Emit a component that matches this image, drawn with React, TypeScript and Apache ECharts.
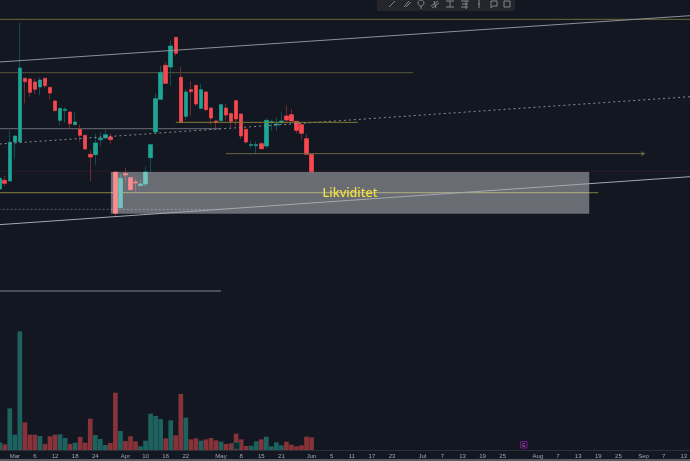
import React, { useEffect, useRef } from "react";
import * as echarts from "echarts";

// [open, close, low, high]
const candles: number[][] = [
  [783,815,783,815],[809,800,792,822],[807,923,807,958],[924,942,872,942],[925,1146,925,1282],
  [1115,1105,1040,1117],[1113,1073,1060,1113],[1104,1082,1068,1115],[1089,1110,1064,1117],[1115,1093,1085,1117],
  [1088,1071,1051,1088],[1047,1018,1017,1050],[989,1025,975,1025],[1019,1022,982,1028],[1014,979,964,1014],
  [976,984,974,1015],[962,944,925,976],[944,903,902,946],[887,879,807,900],[886,921,856,948],
  [931,935,912,954],[936,946,935,962],[939,931,919,950],[834,710,700,834],[727,815,725,828],
  [829,825,802,847],[817,781,780,820],[804,801,772,814],[793,798,792,809],[798,834,789,851],
  [877,916,830,916],[954,1054,954,1070],[1052,1133,1052,1152],[1154,1100,1098,1163],[1149,1212,1093,1228],
  [1238,1190,1183,1238],[1118,983,983,1150],[1001,1074,990,1083],[1081,1075,1003,1107],[1094,1038,1032,1094],
  [1025,1081,1022,1099],[1074,1021,1018,1074],[1026,996,976,1026],[987,983,964,987],[988,1036,987,1040],
  [1026,1005,988,1038],[1009,986,969,1013],[1048,993,972,1049],[1008,942,934,1008],[962,924,919,962],
  [914,916,906,928],[913,916,888,926],[919,904,902,924],[912,989,906,996],[982,985,957,991],
  [975,978,957,998],[982,987,975,1013],[1002,990,977,1033],[1006,987,986,1023],[986,959,950,986],
  [976,950,932,976],[934,887,885,948],[887,835,835,887],
];
const volumes: number[] = [
  23,17,125,46,356,83,46,46,42,18,41,46,47,36,18,22,39,22,94,45,33,15,21,172,57,27,41,26,11,28,
  109,102,93,35,89,44,168,97,32,35,28,32,36,29,25,18,20,49,32,12,13,26,32,40,11,23,14,25,16,11,14,40,38,
];
const tickIndex: number[] = [3,7,11,15,19,25,29,33,37,44,48,52,56,62,66,70,74,78,84,88,92,96,100,107,111,115,119,123,128,132,136];
const tickText: string[] = ["Mar","6","12","18","24","Apr","10","16","22","May","8","15","21","Jun","5","11","17","23","Jul","7","13","19","25","Aug","7","13","19","25","Sep","7","13"];
const slotCount = 138;

const olive = "#6d6a36";
const grey = "#8f9198";
const trendTop = [[-1,1163],[137.3,1303]];
const trendBottom = [[-1,675],[137.3,820]];
const dashedTrend = [[-1,917],[137.3,1060]];
const levelTop = [[-1,1292],[138,1292]];
const level73 = [[-1,1132],[82.2,1132]];
const level129 = [[-1,964],[44,964]];
const level193 = [[-1,772],[119,772]];
const level209 = [[-1,722],[44,722]];
const level171 = [[-1,836],[138,836]];
const level122 = [[35,983],[71.2,983]];
const level153 = [[45,889],[128.3,889]];
const level291 = [[-1,477],[44,477]];
const zone = { x0: 22.1, x1: 117.2, y0: 834, y1: 709, label: "Likviditet" };

const teal = "#1fa596";
const red = "#f8484f";
const tealDark = "#0f4f4e";
const redDark = "#6f2a30";
const volTeal = "#1d625f";
const volRed = "#883239";

function seg(name: string, data: number[][], color: string, width: number, z: number, type: any = "solid") {
  return {
    name, type: "line", xAxisIndex: 2, yAxisIndex: 0, data, symbol: "none", z, silent: true,
    lineStyle: { color, width, type },
  };
}

const stroke = { stroke: "#85878c", lineWidth: 1, fill: "none" };
const ln = (x: number, x1: number, y1: number, x2: number, y2: number) => ({
  type: "line", z: 51, shape: { x1: x + x1, y1, x2: x + x2, y2 }, style: stroke,
});

export default function App() {
  const ref = useRef<HTMLDivElement>(null);
  useEffect(() => {
    document.body.style.margin = "0";
    document.body.style.background = "#131722";
    const chart = echarts.init(ref.current!, null, { renderer: "svg" });
    const categories = Array.from({ length: slotCount }, (_, i) => {
      const k = tickIndex.indexOf(i);
      return k >= 0 ? tickText[k] : "";
    });
    chart.setOption({
      animation: false,
      backgroundColor: "#131722",
      grid: [
        { left: -2.8, top: 0, width: 694.14, height: 450, outerBoundsMode: "none" },
        { left: -2.8, top: 320, width: 694.14, height: 130, outerBoundsMode: "none" },
      ],
      xAxis: [
        { type: "category", gridIndex: 0, data: categories, show: false },
        {
          type: "category", gridIndex: 1, data: categories,
          axisTick: { show: false },
          axisLine: { lineStyle: { color: "#2b2f3a", width: 1 } },
          axisLabel: { interval: 0, color: "#a4a6ac", fontSize: 6, fontFamily: "Liberation Sans", margin: 3 },
        },
        { type: "value", gridIndex: 0, min: -0.5, max: slotCount - 0.5, show: false },
      ],
      yAxis: [
        { type: "value", gridIndex: 0, min: 0, max: 1350, show: false, splitLine: { show: false } },
        { type: "value", gridIndex: 1, min: 0, max: 390, show: false, splitLine: { show: false } },
      ],
      series: [
        seg("level-209", level209, "#5b5e68", 1, 2, [2, 2]),
        seg("level-171", level171, "#4a2530", 0.8, 2, [2, 2]),
        seg("level-193", level193, olive, 1.2, 2),
        seg("level-19", levelTop, olive, 1, 2),
        seg("level-73", level73, "#55553a", 1, 2),
        seg("level-129", level129, "#5a5c64", 1.4, 2),
        seg("level-291", level291, "#4a4d56", 2, 2),
        {
          name: "wicks", type: "candlestick", xAxisIndex: 0, yAxisIndex: 0, data: candles, barWidth: 4, z: 3,
          itemStyle: { color: tealDark, color0: redDark, borderColor: tealDark, borderColor0: redDark, borderWidth: 1 },
        },
        {
          name: "bodies", type: "candlestick", xAxisIndex: 0, yAxisIndex: 0, barWidth: 4, z: 4,
          data: candles.map(([o, c]) => [o, c, Math.min(o, c), Math.max(o, c)]),
          itemStyle: { color: teal, color0: red, borderColor: teal, borderColor0: red, borderWidth: 0.5 },
        },
        {
          name: "zone", type: "line", xAxisIndex: 2, yAxisIndex: 0, data: [], z: 5, symbol: "none",
          markArea: {
            silent: true, z: 5,
            itemStyle: { color: "rgba(255,255,255,0.37)" },
            label: { show: true, position: "inside", color: "#f4e23c", fontSize: 12.5, fontWeight: 500, fontFamily: "Noto Sans" },
            data: [[
              { name: zone.label, coord: [zone.x0, zone.y0] },
              { coord: [zone.x1, zone.y1] },
            ]],
          },
        },
        seg("trend-top", trendTop, grey, 1, 6),
        seg("trend-bottom", trendBottom, "#a6a8ae", 1, 6),
        seg("trend-dashed", dashedTrend, "#8b8d94", 1, 6, [2, 3]),
        seg("level-122", level122, "#807a35", 1, 6),
        {
          ...seg("level-153", [], "#6a6840", 1, 6),
          data: [
            { value: level153[0], symbol: "none" },
            { value: level153[1], symbol: "arrow", symbolSize: [4, 4], symbolRotate: -90, itemStyle: { color: "#6a6840" } },
          ],
          showSymbol: true,
        },
        {
          name: "volume", type: "bar", xAxisIndex: 1, yAxisIndex: 1, barWidth: 4.7, z: 2,
          data: volumes.map((v, i) => ({
            value: v,
            itemStyle: { color: candles[i][1] >= candles[i][0] ? volTeal : volRed },
          })),
        },
      ],
      graphic: [
        { type: "rect", shape: { x: 0, y: 459, width: 690, height: 2 }, style: { fill: "#5a5c62" }, z: 50 },
        { type: "rect", shape: { x: 377, y: 0, width: 138, height: 11, r: 1 }, style: { fill: "#24262b" }, z: 50 },
        ln(392, -3, 7, 3, 1),
        ln(407, -3, 7, 2, 1), ln(407, -1, 7, 4, 2),
        { type: "circle", z: 51, shape: { cx: 421, cy: 3, r: 3 }, style: stroke }, ln(421, 0, 6, 0, 9),
        ln(435, -4, 6, 3, 1), ln(435, -3, 8, 4, 3), ln(435, -1, 1, 1, 8),
        ln(450, -4, 1, 4, 1), ln(450, -4, 7, 4, 7), ln(450, 0, 1, 0, 7),
        ln(465, -4, 1, 4, 1), ln(465, -3, 4, 3, 4), ln(465, -4, 7, 3, 7), ln(465, 1, 1, 1, 9),
        ln(479, 0, 0, 0, 8), ln(479, -1, 4, 1, 4),
        { type: "polyline", z: 51, shape: { points: [[491, 1], [497, 1], [497, 6], [493, 6], [491, 8], [491, 1]] }, style: stroke },
        { type: "rect", z: 51, shape: { x: 504, y: 1, width: 6, height: 6 }, style: stroke },
        { type: "rect", shape: { x: 520.5, y: 441.5, width: 6.5, height: 6.5 }, style: { fill: "#131722", stroke: "#7a1592", lineWidth: 1 }, z: 50 },
        { type: "text", x: 523.8, y: 445, style: { text: "E", fill: "#b067c0", fontSize: 5, fontFamily: "Liberation Sans", align: "center", verticalAlign: "middle" }, z: 51 },
        { type: "rect", shape: { x: 233.5, y: 442.5, width: 6, height: 6.5 }, style: { fill: "#0f2b2e", stroke: "#0f4f4e", lineWidth: 1 }, z: 50 },
      ],
    });
    return () => chart.dispose();
  }, []);
  return <div ref={ref} style={{ position: "fixed", left: 0, top: 0, width: 690, height: 461, filter: "blur(0.35px)" }} />;
}
